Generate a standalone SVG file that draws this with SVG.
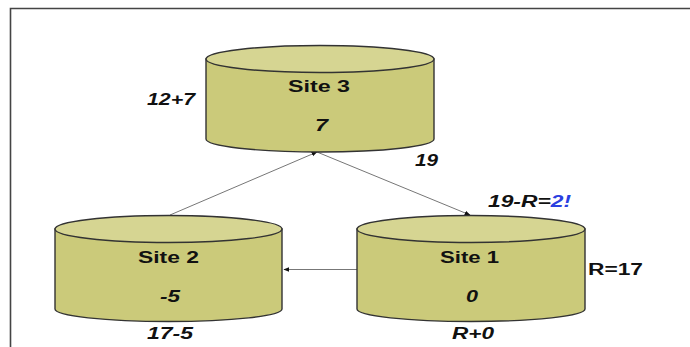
<svg xmlns="http://www.w3.org/2000/svg" width="690" height="347" viewBox="0 0 690 347">
<defs>
<style>
.body{fill:#cbca7a;stroke:#333;stroke-width:1.4}
.top{fill:#d6d592;stroke:#333;stroke-width:1.4}
.t{font-family:"Liberation Sans",Arial,sans-serif;font-weight:bold;font-size:16px;fill:#111}
.i{font-style:italic}
.c{text-anchor:middle}
.conn{stroke:#777;stroke-width:1;fill:none;marker-end:url(#ah)}
</style>
<marker id="ah" viewBox="0 0 10 10" refX="9" refY="5" markerWidth="6" markerHeight="6" orient="auto" markerUnits="userSpaceOnUse">
<path d="M0,1 L10,5 L0,9 z" fill="#111"/>
</marker>
</defs>
<rect width="690" height="347" fill="#fff"/>
<path d="M10.5,347 V8.5 H690" fill="none" stroke="#444" stroke-width="1.6"/>
<g id="connectors">
<line class="conn" x1="170" y1="215" x2="317" y2="152"/>
<line class="conn" x1="317" y1="152" x2="470" y2="215"/>
<line class="conn" x1="357" y1="269.5" x2="284" y2="269.5"/>
</g>
<g id="site3">
<path class="body" d="M206,59 V139 A114,13 0 0 0 434,139 V59 Z"/>
<ellipse class="top" cx="320" cy="59" rx="114" ry="13.5"/>
<text class="t" x="288" y="92" textLength="62" lengthAdjust="spacingAndGlyphs">Site 3</text>
<text class="t i" x="315" y="131" textLength="13" lengthAdjust="spacingAndGlyphs">7</text>
</g>
<g id="site2">
<path class="body" d="M55,229 V309 A113.5,12.5 0 0 0 282,309 V229 Z"/>
<ellipse class="top" cx="168.5" cy="229" rx="113.5" ry="13.5"/>
<text class="t" x="138" y="263" textLength="61" lengthAdjust="spacingAndGlyphs">Site 2</text>
<text class="t i" x="160" y="302" textLength="20" lengthAdjust="spacingAndGlyphs">-5</text>
</g>
<g id="site1">
<path class="body" d="M357,229 V309 A114,12.5 0 0 0 585,309 V229 Z"/>
<ellipse class="top" cx="471" cy="229" rx="114" ry="13.5"/>
<text class="t" x="440" y="263" textLength="59" lengthAdjust="spacingAndGlyphs">Site 1</text>
<text class="t i" x="466" y="302" textLength="12" lengthAdjust="spacingAndGlyphs">0</text>
</g>
<g id="labels">
<text class="t i" x="147" y="105" textLength="48" lengthAdjust="spacingAndGlyphs">12+7</text>
<text class="t i" x="415" y="166" textLength="23" lengthAdjust="spacingAndGlyphs">19</text>
<text class="t i" x="488" y="207" textLength="83" lengthAdjust="spacingAndGlyphs">19-R=<tspan fill="#2a3fe0">2!</tspan></text>
<text class="t" x="588" y="275" textLength="55" lengthAdjust="spacingAndGlyphs">R=17</text>
<text class="t i" x="147" y="339" textLength="46" lengthAdjust="spacingAndGlyphs">17-5</text>
<text class="t i" x="452" y="339" textLength="42" lengthAdjust="spacingAndGlyphs">R+0</text>
</g>
</svg>
